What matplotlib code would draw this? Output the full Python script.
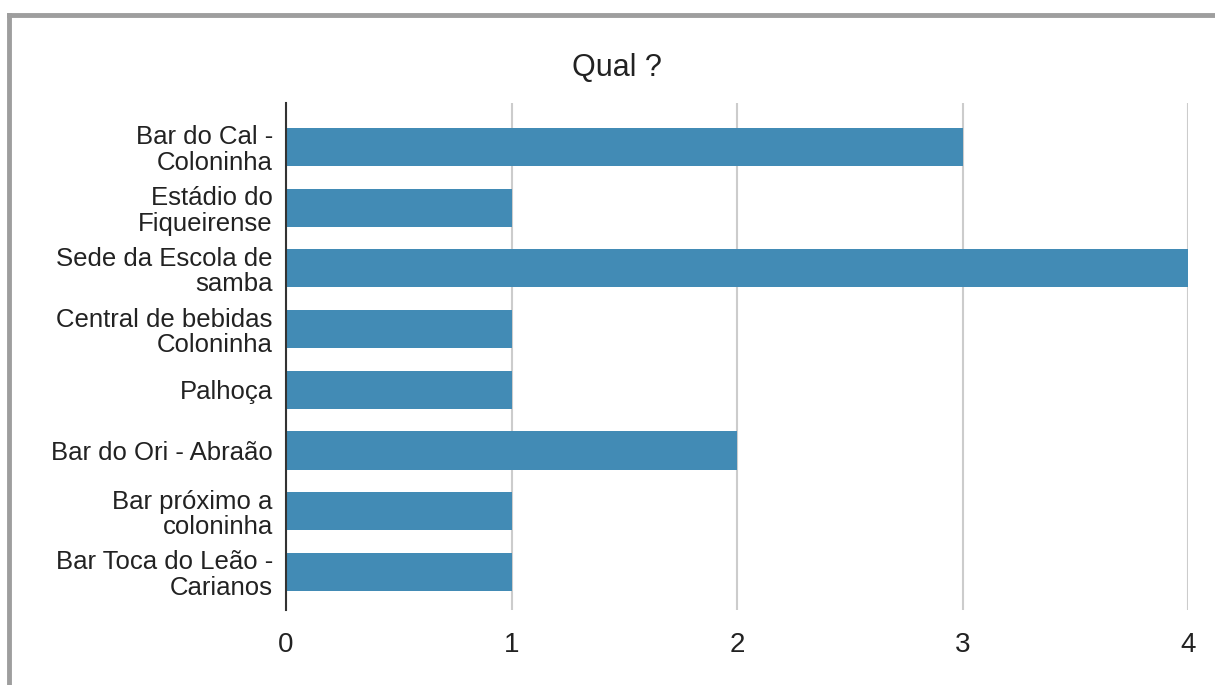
import matplotlib.pyplot as plt
from matplotlib.lines import Line2D

categorias = ['Bar do Cal -\nColoninha', 'Estádio do\nFiqueirense', 'Sede da Escola de\nsamba',
              'Central de bebidas\nColoninha', 'Palhoça', 'Bar do Ori - Abraão',
              'Bar próximo a\ncoloninha', 'Bar Toca do Leão -\nCarianos']
valores = [3, 1, 4, 1, 1, 2, 1, 1]
ticks_x = [0, 1, 2, 3, 4]

plt.rcParams['font.family'] = ['Liberation Sans', 'DejaVu Sans']

fig = plt.figure(figsize=(12.15, 6.85), dpi=100)
ax = fig.add_axes([286/1215, 1-610/685, (1188-286)/1215, (610-103)/685])

pos = list(range(len(categorias)))
ax.barh(pos, valores, height=0.63, color='#428bb5', zorder=3)
ax.set_ylim(7.63, -0.725)
ax.set_xlim(0, 4)
ax.set_yticks(pos)
ax.set_yticklabels(categorias, fontsize=18.5, color='#222222', linespacing=1.08)
ax.set_xticks(ticks_x)
ax.set_xticklabels([str(t) for t in ticks_x], fontsize=20, color='#222222')
ax.tick_params(axis='both', length=0)
ax.tick_params(axis='x', pad=16)
ax.tick_params(axis='y', pad=9.5)
ax.grid(axis='x', color='#cccccc', linewidth=1.5, zorder=0)
for s in ['top', 'right', 'bottom']:
    ax.spines[s].set_visible(False)
ax.spines['left'].set_color('#333333')
ax.spines['left'].set_linewidth(1.5)
ax.spines['left'].set_zorder(4)

fig.text(617/1215, 1-68/685, 'Qual ?', ha='center', va='center', fontsize=22, color='#222222')

# moldura cinza
fig.add_artist(Line2D([9/1215, 1], [1-15/685, 1-15/685], color='#9e9e9e', linewidth=3.5, transform=fig.transFigure))
fig.add_artist(Line2D([9/1215, 9/1215], [0, 1-15/685], color='#9e9e9e', linewidth=3.5, transform=fig.transFigure))

fig.savefig('out.png', dpi=100)
